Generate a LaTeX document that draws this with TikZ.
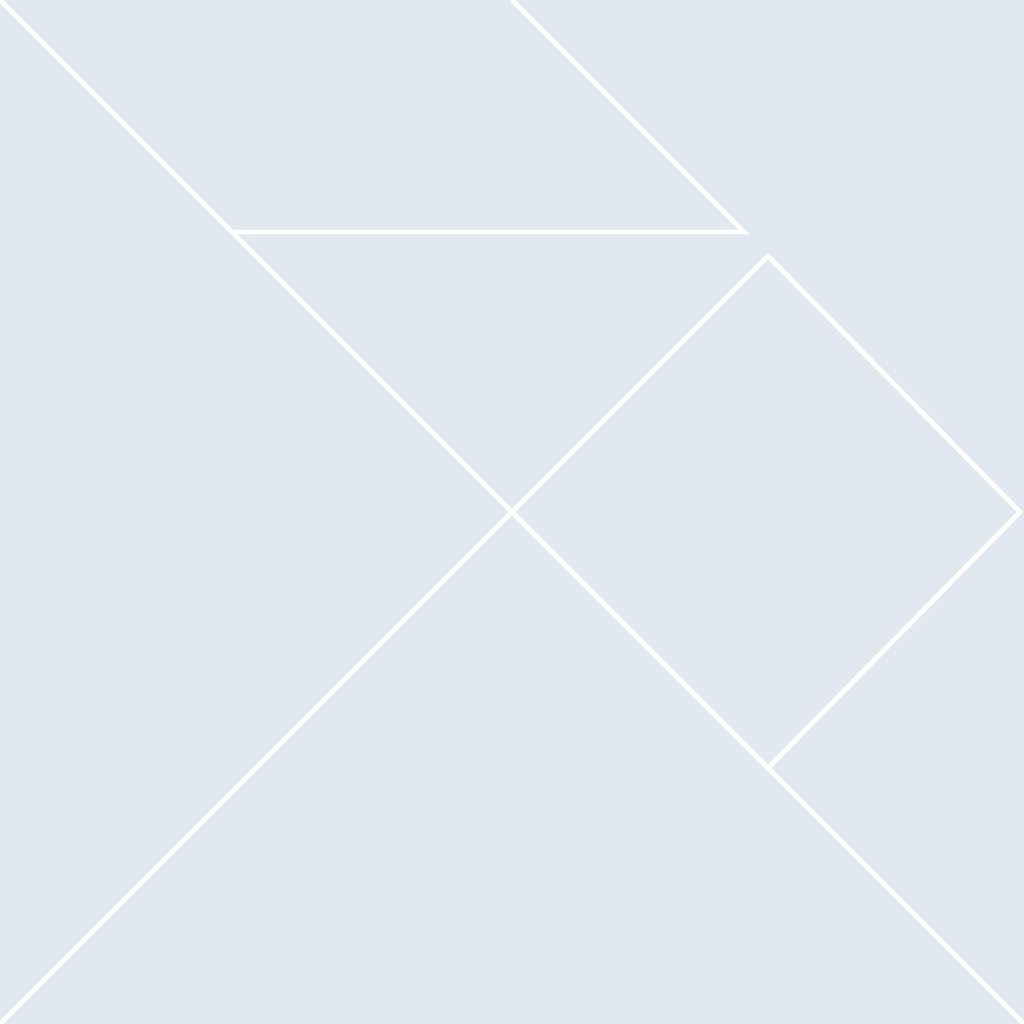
\documentclass[tikz,border=0pt]{standalone}
\definecolor{bg}{HTML}{E2E8F0}
\begin{document}
\begin{tikzpicture}[x=1pt,y=-1pt,edge/.style={draw=white,line width=4.8pt,line join=miter}]
\path[use as bounding box,fill=bg] (0,0) rectangle (1024,1024);
\begin{scope}
\clip (0,0) rectangle (1024,1024);
\coordinate (tl) at (0,0);
\coordinate (c) at (512,512);
\coordinate (br) at (1024,1024);
\coordinate (bl) at (0,1024);
\coordinate (pa) at (232,232);
\coordinate (pb) at (744,232);
\coordinate (pc) at (512,0);
\coordinate (st) at (768,256);
\coordinate (sr) at (1020,512);
\coordinate (sb) at (768,768);
\draw[edge] (tl) -- (c) -- (br);
\draw[edge] (bl) -- (c);
\draw[edge] (pa) -- (pb) -- (pc);
\draw[edge] (c) -- (st) -- (sr) -- (sb) -- cycle;
\end{scope}
\end{tikzpicture}
\end{document}
